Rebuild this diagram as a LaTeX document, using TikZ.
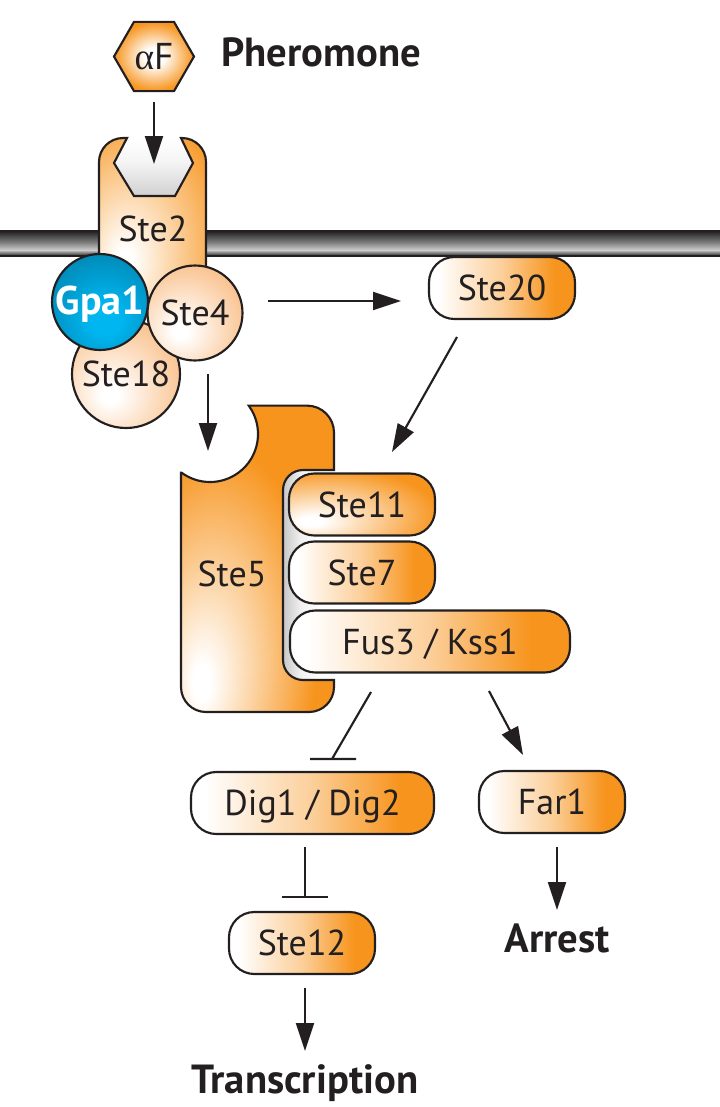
\documentclass[tikz,border=0pt]{standalone}
\usepackage{fontspec}
\setmainfont{PT Sans}
\newfontfamily\greekfont{Liberation Serif}
\usetikzlibrary{arrows.meta,shapes.geometric,calc}

\definecolor{ink}{HTML}{231F20}
\definecolor{sorange}{HTML}{F7941D}
\definecolor{lorange}{HTML}{F9B77A}
\definecolor{gblue}{HTML}{00B6F0}
\definecolor{gteal}{HTML}{007FAA}

% shadings (the path's bounding box spans -25bp..25bp, or 25bp..75bp for axial ones)
\pgfdeclarehorizontalshading{glow}{100bp}{color(0bp)=(white); color(28bp)=(white); color(50bp)=(sorange!45); color(68bp)=(sorange); color(100bp)=(sorange)}
\pgfdeclareradialshading{lowglow}{\pgfpoint{-18bp}{-14bp}}{color(0bp)=(white); color(4bp)=(white); color(38bp)=(sorange); color(100bp)=(sorange)}
\pgfdeclareradialshading{softglow}{\pgfpoint{-8bp}{-10bp}}{color(0bp)=(white); color(4bp)=(white); color(38bp)=(lorange); color(90bp)=(lorange)}
\pgfdeclareradialshading{hexglow}{\pgfpoint{0bp}{0bp}}{color(0bp)=(white); color(6bp)=(white); color(25bp)=(sorange); color(60bp)=(sorange)}
\pgfdeclareradialshading{blueglow}{\pgfpoint{3bp}{-10bp}}{color(0bp)=(gblue); color(8bp)=(gblue); color(38bp)=(gteal); color(80bp)=(gteal)}
\pgfdeclareradialshading{scaffold}{\pgfpoint{-19bp}{-21bp}}{color(0bp)=(white); color(3bp)=(white); color(32bp)=(sorange); color(90bp)=(sorange)}
\pgfdeclareradialshading{receptor}{\pgfpoint{-14bp}{-14bp}}{color(0bp)=(white); color(4bp)=(white); color(45bp)=(sorange); color(90bp)=(sorange)}
\pgfdeclareverticalshading{membrane}{100bp}{color(0bp)=(ink); color(25bp)=(ink); color(37bp)=(black!20); color(52bp)=(black!50); color(75bp)=(ink); color(100bp)=(ink)}
\pgfdeclareverticalshading{pocket}{100bp}{color(0bp)=(black!18); color(25bp)=(black!18); color(55bp)=(black!4); color(75bp)=(white); color(100bp)=(white)}
\pgfdeclarehorizontalshading{slot}{100bp}{color(0bp)=(black!22); color(25bp)=(black!22); color(42bp)=(black!6); color(60bp)=(white); color(100bp)=(white)}

\tikzset{
  outline/.style={draw=ink, line width=1.6pt},
  txt/.style={font=\fontsize{27}{30}\selectfont, text=ink, text height=19pt, text depth=0pt, inner sep=0pt},
  kinase/.style={outline, txt, rounded corners=19pt, shading=glow, minimum height=46.5pt},
  ball/.style={outline, txt, circle, shading=softglow},
  arr/.style={draw=ink, line width=1.6pt, -{Triangle[length=21pt,width=13.5pt]}},
  inhib/.style={draw=ink, line width=1.6pt},
  outcome/.style={font=\bfseries\fontsize{30.5}{33}\selectfont, text=ink, inner sep=0pt},
}

\begin{document}
\begin{tikzpicture}[x=0.75pt, y=-0.75pt]
\useasboundingbox (0,0) rectangle (720,1107);

% plasma membrane
\shade[shading=membrane] (-5,231) rectangle (725,256);
\draw[ink, line width=1pt] (-5,231) -- (725,231) (-5,256) -- (725,256);

% Ste2 receptor with its ligand pocket
\shade[shading=pocket] (127,138) -- (114,163) -- (134,196) -- (175,196) -- (193,163) -- (181,138) -- cycle;
\draw[outline, shading=receptor] (99,300) -- (99,162) arc[start angle=180, end angle=270, radius=24]
  -- (127,138) -- (114,163) -- (134,196) -- (175,196) -- (193,163) -- (181,138)
  -- (182,138) arc[start angle=270, end angle=360, radius=24] -- (206,300) -- cycle;
\node[txt] (ste2) at (153,229) {Ste2};

% heterotrimeric G protein
\node[ball, minimum size=81pt] (ste18) at (126,374) {Ste18};
\node[ball, minimum size=72pt, shading=blueglow, text=white, font=\bfseries\fontsize{30}{32}\selectfont] (gpa1) at (100,302) {Gpa1};
\node[ball, minimum size=71.25pt] (ste4) at (195,313) {Ste4};

% pheromone
\node[regular polygon, regular polygon sides=6, minimum size=60pt, inner sep=0pt, outline, shading=hexglow,
      font=\fontsize{28}{30}\selectfont, text=ink] (af) at (154,56.5) {{\greekfont α}F};
\node[outcome, anchor=base west] (pher) at (221,66.5) {Pheromone};

% Ste20
\node[kinase, minimum width=109.5pt] (ste20) at (502,288) {Ste20};

% Ste5 scaffold: slot for the kinase cascade, then the body
\shade[shading=slot] (334,470) -- (303,470) arc[start angle=270, end angle=180, radius=20]
  -- (283,660) arc[start angle=180, end angle=90, radius=20] -- (334,680) -- cycle;
\draw[outline, shading=scaffold] (181,472.6) -- (181,687) arc[start angle=180, end angle=90, radius=25]
  -- (309,712) arc[start angle=90, end angle=0, radius=25]
  -- (334,680) -- (303,680) arc[start angle=90, end angle=180, radius=20]
  -- (283,490) arc[start angle=180, end angle=270, radius=20]
  -- (334,470) -- (334,432.6) arc[start angle=0, end angle=-90, radius=27]
  -- (248.7,405.6) arc[start angle=-36.3, end angle=126.5, radius=48] -- cycle;
\node[txt] (ste5) at (232,574) {Ste5};

% MAPK cascade
\node[kinase, minimum width=109.5pt, shading=lowglow] (ste11) at (362,504.5) {Ste11};
\node[kinase, minimum width=109.5pt] (ste7) at (362,572.5) {Ste7};
\node[kinase, minimum width=210pt] (fus3) at (430,641.5) {Fus3 / Kss1};

% downstream targets
\node[kinase, minimum width=182.25pt] (dig) at (312.5,803) {Dig1 / Dig2};
\node[kinase, minimum width=109.5pt] (far1) at (552,802) {Far1};
\node[kinase, minimum width=109.5pt] (ste12) at (302,943) {Ste12};
\node[outcome, anchor=base] (transcription) at (305,1093) {Transcription};
\node[outcome, anchor=base] (arrest) at (557,952) {Arrest};

% connector end points
\coordinate (afout) at (154,102);
\coordinate (pocketin) at (154,164);
\coordinate (gout) at (268,301);
\coordinate (s20in) at (401,301);
\coordinate (s20out) at (457,337);
\coordinate (cascadein) at (392,452);
\coordinate (gdown) at (208,374);
\coordinate (ste5in) at (208,451);
\coordinate (fusleft) at (371,692);
\coordinate (digbar) at (332,759);
\coordinate (fusright) at (489,691);
\coordinate (far1in) at (523,755);
\coordinate (digout) at (305,847);
\coordinate (ste12bar) at (305,897);
\coordinate (ste12out) at (305,988);
\coordinate (transin) at (305,1051);
\coordinate (far1out) at (557,847);
\coordinate (arrestin) at (557,910);

% activation arrows
\draw[arr] (afout) -- (pocketin);
\draw[arr] (gout) -- (s20in);
\draw[arr] (s20out) -- (cascadein);
\draw[arr] (gdown) -- (ste5in);
\draw[arr] (fusright) -- (far1in);
\draw[arr] (ste12out) -- (transin);
\draw[arr] (far1out) -- (arrestin);

% inhibition
\draw[inhib] (fusleft) -- (digbar) ($(digbar)+(-22,0)$) -- ($(digbar)+(24,0)$);
\draw[inhib] (digout) -- (ste12bar) ($(ste12bar)+(-23,0)$) -- ($(ste12bar)+(23,0)$);
\end{tikzpicture}
\end{document}
